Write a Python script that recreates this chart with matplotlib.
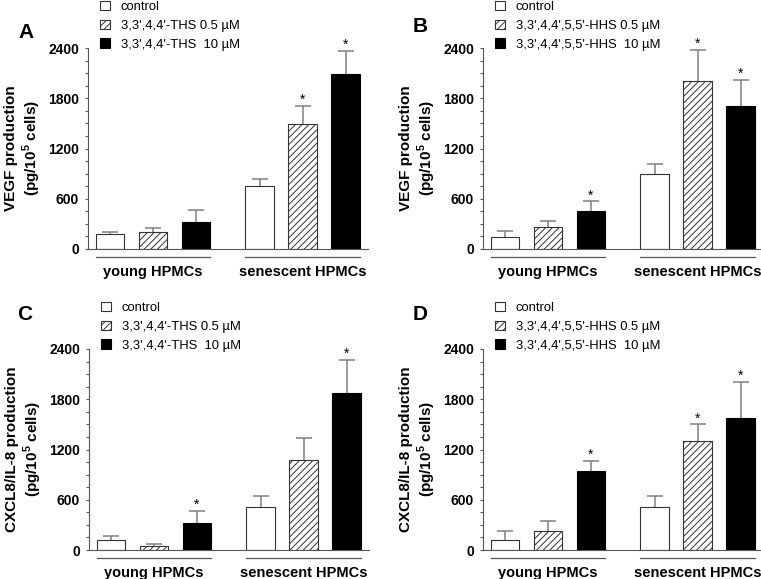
import matplotlib

matplotlib.use("Agg")
import matplotlib.pyplot as plt
import numpy as np

plt.rcParams["font.family"] = ["Liberation Sans", "DejaVu Sans"]
plt.rcParams["mathtext.fontset"] = "custom"
plt.rcParams["mathtext.bf"] = "Liberation Sans:bold"
plt.rcParams["mathtext.rm"] = "Liberation Sans"
plt.rcParams["hatch.linewidth"] = 0.7

# --- data (pg/10^5 cells) ---
groups = ["young HPMCs", "senescent HPMCs"]
ths_labels = ["control", "3,3',4,4'-THS 0.5 \u00b5M", "3,3',4,4'-THS  10 \u00b5M"]
hhs_labels = ["control", "3,3',4,4',5,5'-HHS 0.5 \u00b5M", "3,3',4,4',5,5'-HHS  10 \u00b5M"]

# order: young control, young 0.5, young 10, senescent control, senescent 0.5, senescent 10
vegf_ths = [177, 205, 318, 751, 1487, 2090]
vegf_ths_err = [22, 42, 147, 80, 224, 276]
vegf_ths_sig = [False, False, False, False, True, True]

vegf_hhs = [139, 266, 457, 894, 2011, 1709]
vegf_hhs_err = [76, 64, 111, 115, 365, 306]
vegf_hhs_sig = [False, False, True, False, True, True]

il8_ths = [115, 48, 326, 517, 1071, 1870]
il8_ths_err = [48, 20, 136, 124, 262, 399]
il8_ths_sig = [False, False, True, False, False, True]

il8_hhs = [119, 223, 943, 517, 1301, 1572]
il8_hhs_err = [104, 119, 116, 124, 198, 430]
il8_hhs_sig = [False, False, True, False, True, True]

yticks = [0, 600, 1200, 1800, 2400]

FIG_W, FIG_H = 761, 579
ERR = "#808080"


def axes_rect(left, top, width=280, height=201):
    """Pixel box -> figure fraction rect."""
    return [left / FIG_W, 1 - (top + height) / FIG_H, width / FIG_W, height / FIG_H]


def draw_panel(fig, rect, letter, letter_xy, ylabel, labels, values, errors, sig):
    ax = fig.add_axes(rect)
    x = np.array([0, 1, 2, 3.48, 4.48, 5.48])
    width = 0.67
    styles = [
        {"facecolor": "white", "hatch": None, "edgecolor": "#333333"},
        {"facecolor": "white", "hatch": "/////", "edgecolor": "#333333"},
        {"facecolor": "black", "hatch": None, "edgecolor": "black"},
    ]

    handles = []
    for k in range(3):
        idx = [k, k + 3]
        b = ax.bar(
            x[idx],
            np.array(values)[idx],
            width,
            linewidth=0.8,
            label=labels[k],
            zorder=2,
            **styles[k],
        )
        handles.append(b)

    # upper error bars only
    err = np.array(errors)
    _, caps, _ = ax.errorbar(
        x,
        values,
        yerr=[np.zeros_like(err), err],
        fmt="none",
        ecolor=ERR,
        elinewidth=1.1,
        capsize=5.5,
        capthick=1.1,
        zorder=1,
    )
    caps[0].set_visible(False)

    for xi, v, e, s in zip(x, values, errors, sig):
        if s:
            ax.annotate(
                "*",
                (xi, v + e),
                xytext=(0, 1.5),
                textcoords="offset points",
                ha="center",
                va="baseline",
                fontsize=10,
            )

    ax.set_xlim(-0.51, 6.0)
    ax.set_ylim(0, 2400)
    ax.set_yticks(yticks)
    ax.set_yticks(np.arange(0, 2401, 150), minor=True)
    ax.set_xticks([])
    for side in ["top", "right"]:
        ax.spines[side].set_visible(False)
    for side in ["left", "bottom"]:
        ax.spines[side].set_color("#555555")
        ax.spines[side].set_linewidth(0.8)
    ax.tick_params(axis="y", which="both", direction="out", color="#555555", width=0.8)
    ax.tick_params(axis="y", which="major", length=2.5, pad=4, labelsize=10)
    ax.tick_params(axis="y", which="minor", length=2.0)
    for t in ax.get_yticklabels():
        t.set_fontweight("bold")

    ax.set_ylabel(ylabel, fontsize=11, fontweight="bold", linespacing=1.2)
    ax.yaxis.set_label_coords(-0.16, 0.5)

    # group underline + group names
    trans = ax.get_xaxis_transform()
    for g, name in enumerate(groups):
        x0 = x[3 * g] - width / 2
        x1 = x[3 * g + 2] + width / 2
        ax.plot([x0, x1], [-0.04, -0.04], transform=trans, color="#555555",
                linewidth=0.9, clip_on=False)
        ax.text((x0 + x1) / 2, -0.115, name, transform=trans, ha="center",
                va="center", fontsize=10.5, fontweight="bold")

    ax.legend(
        handles=handles,
        loc="upper left",
        bbox_to_anchor=(0.043, 1.235),
        frameon=False,
        fontsize=9.4,
        handlelength=0.75,
        handleheight=0.75,
        handletextpad=0.85,
        labelspacing=0.5,
        borderpad=0,
        borderaxespad=0,
    )

    fig.text(letter_xy[0] / FIG_W, 1 - letter_xy[1] / FIG_H, letter,
             ha="center", va="center", fontsize=15, fontweight="bold")
    return ax


def main() -> None:
    fig = plt.figure(figsize=(FIG_W / 100, FIG_H / 100), dpi=100)
    vegf_label = "VEGF production\n(pg/10$^{\\mathbf{5}}$ cells)"
    il8_label = "CXCL8/IL-8 production\n(pg/10$^{\\mathbf{5}}$ cells)"

    draw_panel(fig, axes_rect(88, 48), "A", (26, 33), vegf_label,
               ths_labels, vegf_ths, vegf_ths_err, vegf_ths_sig)
    draw_panel(fig, axes_rect(483, 48), "B", (420, 27), vegf_label,
               hhs_labels, vegf_hhs, vegf_hhs_err, vegf_hhs_sig)
    draw_panel(fig, axes_rect(89, 349), "C", (25, 315), il8_label,
               ths_labels, il8_ths, il8_ths_err, il8_ths_sig)
    draw_panel(fig, axes_rect(483, 349), "D", (420, 315), il8_label,
               hhs_labels, il8_hhs, il8_hhs_err, il8_hhs_sig)

    fig.savefig("out.png", dpi=100)
    plt.close(fig)


if __name__ == "__main__":
    main()
